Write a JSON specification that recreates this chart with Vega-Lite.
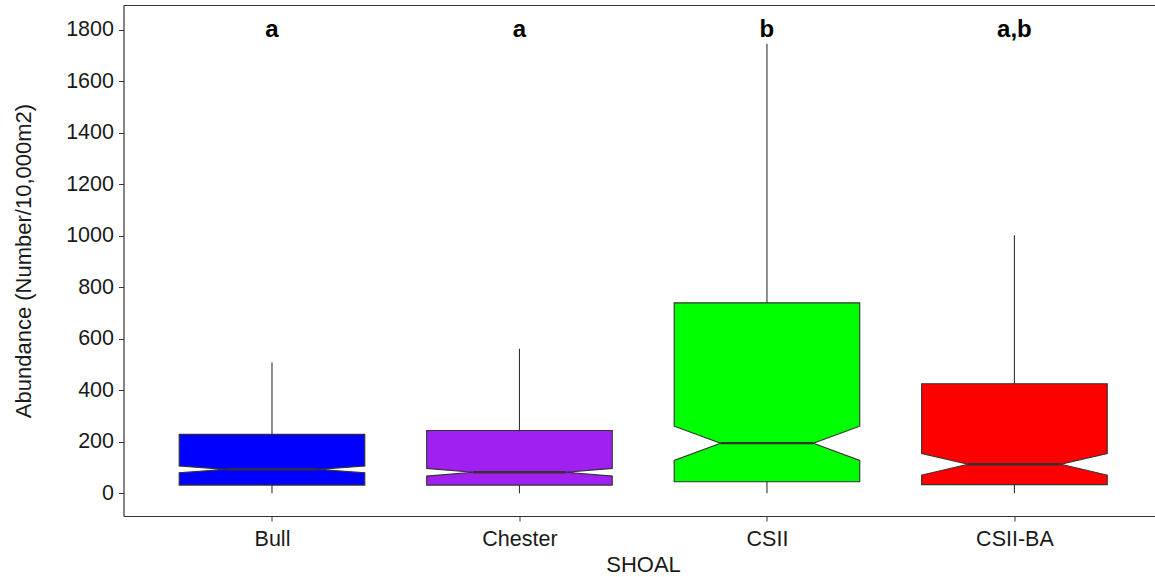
{
  "$schema": "https://vega.github.io/schema/vega-lite/v6.json",
  "autosize": {"type": "none"},
  "padding": {"left": 123.5, "top": 5, "right": 0, "bottom": 61},
  "width": 1031.5,
  "height": 511,
  "background": "white",
  "config": {
    "view": {"stroke": null},
    "font": "Liberation Sans",
    "axis": {
      "grid": false,
      "domainColor": "#333333",
      "domainWidth": 1.2,
      "tickColor": "#333333",
      "tickSize": 5,
      "labelFont": "Liberation Sans",
      "labelFontSize": 21.5,
      "labelColor": "#1a1a1a",
      "titleFont": "Liberation Sans",
      "titleFontSize": 22,
      "titleFontWeight": "normal",
      "titleColor": "#1a1a1a"
    }
  },
  "data": {
    "values": [
      {"shoal": "Bull", "wlo": 0, "q1": 32, "nlo": 80, "med": 93, "nhi": 106, "q3": 229, "whi": 508, "group": "a"},
      {"shoal": "Chester", "wlo": 0, "q1": 32, "nlo": 67, "med": 82, "nhi": 97, "q3": 244, "whi": 562, "group": "a"},
      {"shoal": "CSII", "wlo": 0, "q1": 45, "nlo": 128, "med": 195, "nhi": 261, "q3": 740, "whi": 1746, "group": "b"},
      {"shoal": "CSII-BA", "wlo": 0, "q1": 34, "nlo": 71, "med": 113, "nhi": 155, "q3": 426, "whi": 1003, "group": "a,b"}
    ]
  },
  "transform": [
    {"calculate": "indexof(['Bull', 'Chester', 'CSII', 'CSII-BA'], datum.shoal) + 1", "as": "pos"}
  ],
  "resolve": {"axis": {"x": "independent", "y": "independent"}},
  "layer": [
    {
      "mark": {"type": "rule", "color": "#333333", "strokeWidth": 1.1},
      "encoding": {
        "x": {
          "field": "pos", "type": "quantitative",
          "scale": {"domain": [0.4, 4.568], "nice": false, "zero": false},
          "axis": {
            "values": [1, 2, 3, 4],
            "labelExpr": "['Bull', 'Chester', 'CSII', 'CSII-BA'][datum.value - 1]",
            "title": "SHOAL",
            "titleX": 519.5,
            "labelPadding": 7,
            "titlePadding": 5
          }
        },
        "y": {
          "field": "wlo", "type": "quantitative",
          "scale": {"domain": [-88, 1897], "nice": false, "zero": false},
          "axis": {
            "values": [0, 200, 400, 600, 800, 1000, 1200, 1400, 1600, 1800],
            "format": "d",
            "title": "Abundance (Number/10,000m2)",
            "labelPadding": 5,
            "titlePadding": 30
          }
        },
        "y2": {"field": "whi"}
      }
    },
    {
      "transform": [
        {"fold": ["q1", "nlo", "med", "nhi", "q3"], "as": ["stat", "value"]},
        {"calculate": "datum.stat === 'med' ? 0.1875 : 0.375", "as": "half"},
        {"calculate": "datum.pos - datum.half", "as": "xl"},
        {"calculate": "datum.pos + datum.half", "as": "xr"}
      ],
      "mark": {"type": "area", "orient": "horizontal", "stroke": "#333333", "strokeWidth": 1.1, "fillOpacity": 1},
      "encoding": {
        "y": {"field": "value", "type": "quantitative", "axis": null},
        "x": {"field": "xl", "type": "quantitative", "axis": null},
        "x2": {"field": "xr"},
        "detail": {"field": "shoal"},
        "fill": {
          "field": "shoal", "type": "nominal", "legend": null,
          "scale": {"domain": ["Bull", "Chester", "CSII", "CSII-BA"], "range": ["#0000FF", "#A020F0", "#00FF00", "#FF0000"]}
        }
      }
    },
    {
      "transform": [
        {"calculate": "datum.pos - 0.1875", "as": "ml"},
        {"calculate": "datum.pos + 0.1875", "as": "mr"}
      ],
      "mark": {"type": "rule", "color": "#333333", "strokeWidth": 2.4},
      "encoding": {
        "x": {"field": "ml", "type": "quantitative", "axis": null},
        "x2": {"field": "mr"},
        "y": {"field": "med", "type": "quantitative", "axis": null}
      }
    },
    {
      "mark": {"type": "text", "fontSize": 24, "fontWeight": "bold", "font": "Liberation Sans", "color": "#000000", "baseline": "middle", "align": "center"},
      "encoding": {
        "x": {
          "field": "pos", "type": "quantitative",
          "axis": {"orient": "top", "labels": false, "ticks": false, "title": null, "domainColor": "#333333", "domainWidth": 1.2}
        },
        "y": {"datum": 1800, "type": "quantitative", "axis": null},
        "text": {"field": "group"}
      }
    }
  ]
}
